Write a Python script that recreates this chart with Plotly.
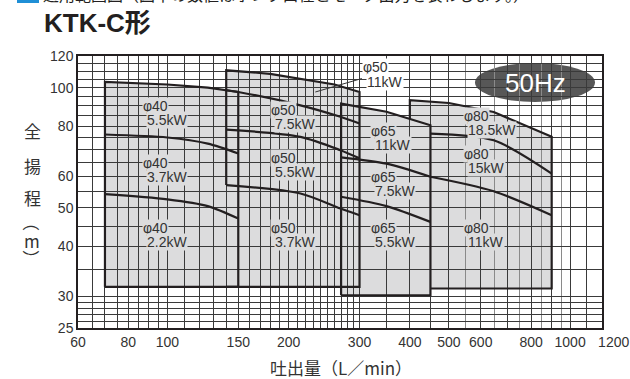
import math
import numpy as np
import plotly.graph_objects as go

# ---------------- data : flow Q (L/min), total head H (m) ----------------
# φ40 range
P40_Q_LEFT, P40_Q_RIGHT, P40_BOTTOM = 70, 150, 31.7
P40_55_Q = [70, 100, 126, 150]
P40_55_H = [103.3, 101.8, 100.0, 97.5]
P40_37_Q = [70, 100, 126, 150]
P40_37_H = [76.3, 75.0, 72.4, 68.4]
P40_22_Q = [70, 100, 126, 150]
P40_22_H = [54.1, 52.5, 50.5, 47.0]
# φ50 range
P50_Q_LEFT, P50_Q_RIGHT, P50_BOTTOM = 140, 300, 31.7
P50_11_Q = [140, 180, 214, 260, 300]
P50_11_H = [110.5, 108.3, 105.4, 101.8, 97.5]
P50_75_Q = [140, 150, 214, 269, 300]
P50_75_H = [98.5, 97.5, 90.3, 84.5, 81.3]
P50_55_Q = [140, 214, 269, 300]
P50_55_H = [78.5, 75.3, 69.7, 66.5]
P50_37_Q = [140, 214, 269, 300]
P50_37_H = [57.0, 54.3, 49.8, 47.9]
# φ65 range
P65_Q_LEFT, P65_Q_RIGHT, P65_BOTTOM = 270, 450, 30.2
P65_11_Q = [270, 350, 450]
P65_11_H = [91.2, 87.0, 80.5]
P65_75_Q = [270, 350, 450]
P65_75_H = [66.9, 64.5, 59.8]
P65_55_Q = [270, 350, 450]
P65_55_H = [53.3, 50.5, 46.1]
# φ80 range
P80_Q_LEFT, P80_Q_RIGHT, P80_BOTTOM = 400, 900, 31.4
P80_185_Q = [400, 500, 646, 900]
P80_185_H = [93.0, 91.5, 86.9, 75.3]
P80_15_Q = [450, 646, 900]
P80_15_H = [76.7, 73.8, 60.9]
P80_11_Q = [450, 646, 900]
P80_11_H = [59.8, 55.0, 47.9]

# leader for the φ50 11kW label
LEADER_Q = [233, 304]
LEADER_H = [97.5, 105.4]

# axes
X_TICKS = [60, 80, 100, 150, 200, 300, 400, 500, 600, 800, 1000, 1200]
X_TICK_TEXT = ["60", "80", "100", "150", "200", "300", "400", "500", "600", "800", "1000",
               "\u00a0\u00a0\u00a0\u00a0\u00a0\u00a01200"]
Y_TICKS = [25, 30, 40, 50, 60, 80, 100, 120]
X_GRID = list(range(60, 100, 5)) + list(range(100, 300, 10)) + list(range(300, 1000, 50)) + [1000, 1100, 1200]
X_GRID_LIGHT = [550, 650, 750, 850, 950]
Y_GRID = [25, 26, 27, 28, 29] + list(range(30, 121, 5))

LABELS = [  # line1, line2, left px, line1 centre px, bg
    ("φ40", "5.5kW", 142, 106, "in"),
    ("φ40", "3.7kW", 142, 162.5, "in"),
    ("φ40", "2.2kW", 142, 228, "in"),
    ("φ50", "7.5kW", 270, 110, "in"),
    ("φ50", "5.5kW", 270, 158, "in"),
    ("φ50", "3.7kW", 270, 228, "in"),
    ("φ50", "11kW", 362, 67.5, "out"),
    ("φ65", "11kW", 370, 131, "in"),
    ("φ65", "7.5kW", 370, 177, "in"),
    ("φ65", "5.5kW", 370, 228, "in"),
    ("φ80", "18.5kW", 463, 116, "in"),
    ("φ80", "15kW", 463, 154, "in"),
    ("φ80", "11kW", 463, 228, "in"),
]

# ---------------- styling ----------------
FILL = "#dcdcdd"
EDGE = "#231f20"
GRID = "#3a3a3a"
GRID_L = "#8a8a8a"
TXT = "#333333"
FONT = "Liberation Sans, Arial, sans-serif"
CJK = "Noto Sans CJK JP, sans-serif"

L, R, T, B = 78, 28, 56, 51
W = 630 - L - R
Hh = 379 - T - B


def paper(px, py):
    return (px - L) / W, (379 - B - py) / Hh


fig = go.Figure()


def region_path(qs, hs, bottom):
    pts = [(qs[0], bottom)] + list(zip(qs, hs)) + [(qs[-1], bottom)]
    return "M " + " L ".join(f"{q},{h}" for q, h in pts) + " Z"


shapes = []
for qs, hs, bot in [(P40_55_Q, P40_55_H, P40_BOTTOM), (P50_11_Q, P50_11_H, P50_BOTTOM),
                    (P65_11_Q, P65_11_H, P65_BOTTOM), (P80_185_Q, P80_185_H, P80_BOTTOM)]:
    shapes.append(dict(type="path", path=region_path(qs, hs, bot), xref="x", yref="y",
                       fillcolor=FILL, line=dict(width=0), layer="below"))


def line(qs, hs, w=2.2, color=EDGE, smooth=False):
    fig.add_trace(go.Scatter(x=qs, y=hs, mode="lines",
                             line=dict(color=color, width=w,
                                       shape="spline" if smooth else "linear",
                                       smoothing=0.8 if smooth else None),
                             hoverinfo="skip", showlegend=False))


# φ40 outline (closed)
line([P40_Q_LEFT] + P40_55_Q + [P40_Q_RIGHT, P40_Q_LEFT],
     [P40_BOTTOM] + P40_55_H + [P40_BOTTOM, P40_BOTTOM])
line(P40_37_Q, P40_37_H, smooth=True)
line(P40_22_Q, P40_22_H, smooth=True)
# φ50 outline (left edge hidden below 3.7kW start)
line([P50_Q_LEFT] + P50_11_Q + [P50_Q_RIGHT, P50_Q_LEFT],
     [P50_37_H[0]] + P50_11_H + [P50_BOTTOM, P50_BOTTOM])
line(P50_75_Q, P50_75_H, smooth=True)
line(P50_55_Q, P50_55_H, smooth=True)
line(P50_37_Q, P50_37_H, smooth=True)
# φ65 outline (closed)
line([P65_Q_LEFT] + P65_11_Q + [P65_Q_RIGHT, P65_Q_LEFT],
     [P65_BOTTOM] + P65_11_H + [P65_BOTTOM, P65_BOTTOM])
line(P65_75_Q, P65_75_H, smooth=True)
line(P65_55_Q, P65_55_H, smooth=True)
# φ80 outline (part hidden behind φ65)
h65_at_80 = float(10 ** np.interp(math.log10(P80_Q_LEFT), np.log10(P65_11_Q), np.log10(P65_11_H)))
line([P80_Q_LEFT] + P80_185_Q + [P80_Q_RIGHT, P65_Q_RIGHT],
     [h65_at_80] + P80_185_H + [P80_BOTTOM, P80_BOTTOM])
line(P80_15_Q, P80_15_H, smooth=True)
line(P80_11_Q, P80_11_H, smooth=True)
# leader
line(LEADER_Q, LEADER_H, w=1, color=TXT)


def note(text, px, py, size, color=TXT, family=FONT, xanchor="center", bg=None, angle=0):
    x, y = paper(px, py)
    d = dict(text=text, x=x, y=y, xref="paper", yref="paper", xanchor=xanchor, yanchor="middle",
             showarrow=False, textangle=angle, font=dict(family=family, size=size, color=color))
    if bg:
        d.update(bgcolor=bg, borderpad=0)
    return d


annotations = []
for l1, l2, lx, ly, bg in LABELS:
    bgc = FILL if bg == "in" else "white"
    annotations.append(note(l1, lx, ly, 14, xanchor="left", bg=bgc))
    annotations.append(note(l2, lx + 4, ly + 14, 14, xanchor="left", bg=bgc))

# 50Hz badge
ex0, ey0 = paper(475, 102)
ex1, ey1 = paper(595, 63)
shapes.append(dict(type="circle", xref="paper", yref="paper", x0=ex0, x1=ex1, y0=ey0, y1=ey1,
                   fillcolor="#575757", line=dict(width=0), layer="between"))
annotations.append(note("50Hz", 535, 83, 26, color="white"))

# cut-off heading line at the very top
hx0, hy0 = paper(17, 3)
hx1, hy1 = paper(39, -14)
shapes.append(dict(type="rect", xref="paper", yref="paper", x0=hx0, x1=hx1, y0=hy0, y1=hy1,
                   fillcolor="#1f8fd6", line=dict(width=0), layer="above"))
annotations.append(note("適用範囲図（図中の数値はポンプ口径とモータ出力を表わします。）", 41, -6.5, 16,
                        color="#231f20", family=CJK, xanchor="left"))

# title
annotations.append(note("<b>KTK-C形</b>", 42, 23, 26, color="#231f20",
                        family="Liberation Sans, Noto Sans CJK JP", xanchor="left"))

# y title (vertical)
for ch, py, ang in zip(["全", "揚", "程", "（", "m", "）"], [130, 165, 198, 222, 240, 258],
                       [0, 0, 0, 90, 0, 90]):
    annotations.append(note(ch, 32, py, 17, family=CJK, angle=ang))
# x title
annotations.append(note("吐出量（L／min）", 341, 367, 17, family=CJK))

y_extra = [v for v in Y_GRID if v not in Y_TICKS]
x_dark = [v for v in X_GRID if v not in X_TICKS and v not in X_GRID_LIGHT]
x_major = X_TICKS + x_dark
x_major_text = X_TICK_TEXT + [""] * len(x_dark)

fig.update_xaxes(type="log", range=[math.log10(60), math.log10(1200)], automargin=False,
                 tickvals=x_major, ticktext=x_major_text, ticks="", tickangle=0,
                 showgrid=True, gridcolor=GRID, gridwidth=1,
                 minor=dict(tickvals=X_GRID_LIGHT, showgrid=True, gridcolor=GRID_L, gridwidth=1, ticks=""),
                 showline=True, mirror=True, linecolor=EDGE, linewidth=1.5,
                 tickfont=dict(family=FONT, size=14, color=TXT), zeroline=False)
fig.update_yaxes(type="log", range=[math.log10(25), math.log10(120)], automargin=False,
                 tickvals=Y_TICKS, ticktext=[str(v) for v in Y_TICKS], ticks="",
                 showgrid=True, gridcolor=GRID, gridwidth=1,
                 minor=dict(tickvals=y_extra, showgrid=True, gridcolor=GRID, gridwidth=1, ticks=""),
                 showline=True, mirror=True, linecolor=EDGE, linewidth=1.5,
                 tickfont=dict(family=FONT, size=14, color=TXT), zeroline=False)

fig.update_layout(width=630, height=379, margin=dict(l=L, r=R, t=T, b=B, autoexpand=False),
                  paper_bgcolor="white", plot_bgcolor="white",
                  shapes=shapes, annotations=annotations, showlegend=False)

fig.write_html("out.html", config={"displayModeBar": False},
               post_script="document.body.style.margin='0';")
